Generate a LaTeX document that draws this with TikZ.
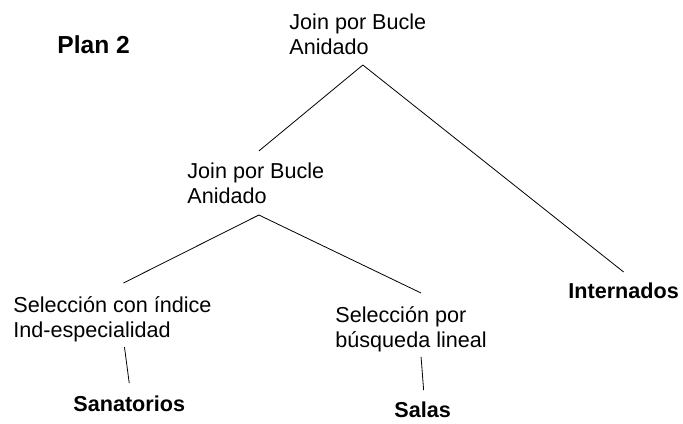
\documentclass[tikz,border=0pt]{standalone}
\usepackage{fontspec}
\setmainfont{Liberation Sans}
\usepackage{tikz}

\begin{document}
\begin{tikzpicture}[x=0.5pt,y=-0.5pt,
  oper/.style={anchor=base west,inner sep=0pt,align=left,font=\fontsize{10.8}{12.5}\selectfont},
  tabla/.style={anchor=base west,inner sep=0pt,font=\fontsize{10.8}{12.5}\selectfont\bfseries},
  rama/.style={line width=0.4pt}]
\useasboundingbox (0,0) rectangle (683,423);

\node[tabla,font=\fontsize{12.3}{14}\selectfont\bfseries] (plan) at (57,53) {Plan 2};

\node[oper] (join1) at (289,54) {Join por Bucle\\Anidado};

\node[oper] (join2) at (187,203) {Join por Bucle\\Anidado};

\node[oper] (selidx) at (13,337) {Selección con índice\\Ind-especialidad};

\node[oper] (sellin) at (335,347) {Selección por\\búsqueda lineal};

\node[tabla] (intern) at (568,298) {Internados};
\node[tabla] (sanat) at (73,411) {Sanatorios};
\node[tabla] (salas) at (394,417) {Salas};

\draw[rama] ([shift={(5,11)}]join1.base) -- ([shift={(3,-52)}]join2.base);
\draw[rama] ([shift={(5,11)}]join1.base) -- ([shift={(0,-26)}]intern.base);
\draw[rama] ([shift={(3,12)}]join2.base) -- ([shift={(11,-54)}]selidx.base);
\draw[rama] ([shift={(3,12)}]join2.base) -- ([shift={(10,-54)}]sellin.base);
\draw[rama] ([shift={(12,10)}]selidx.base) -- ([shift={(0,-28)}]sanat.base);
\draw[rama] ([shift={(10,10)}]sellin.base) -- ([shift={(1,-27)}]salas.base);
\end{tikzpicture}
\end{document}
